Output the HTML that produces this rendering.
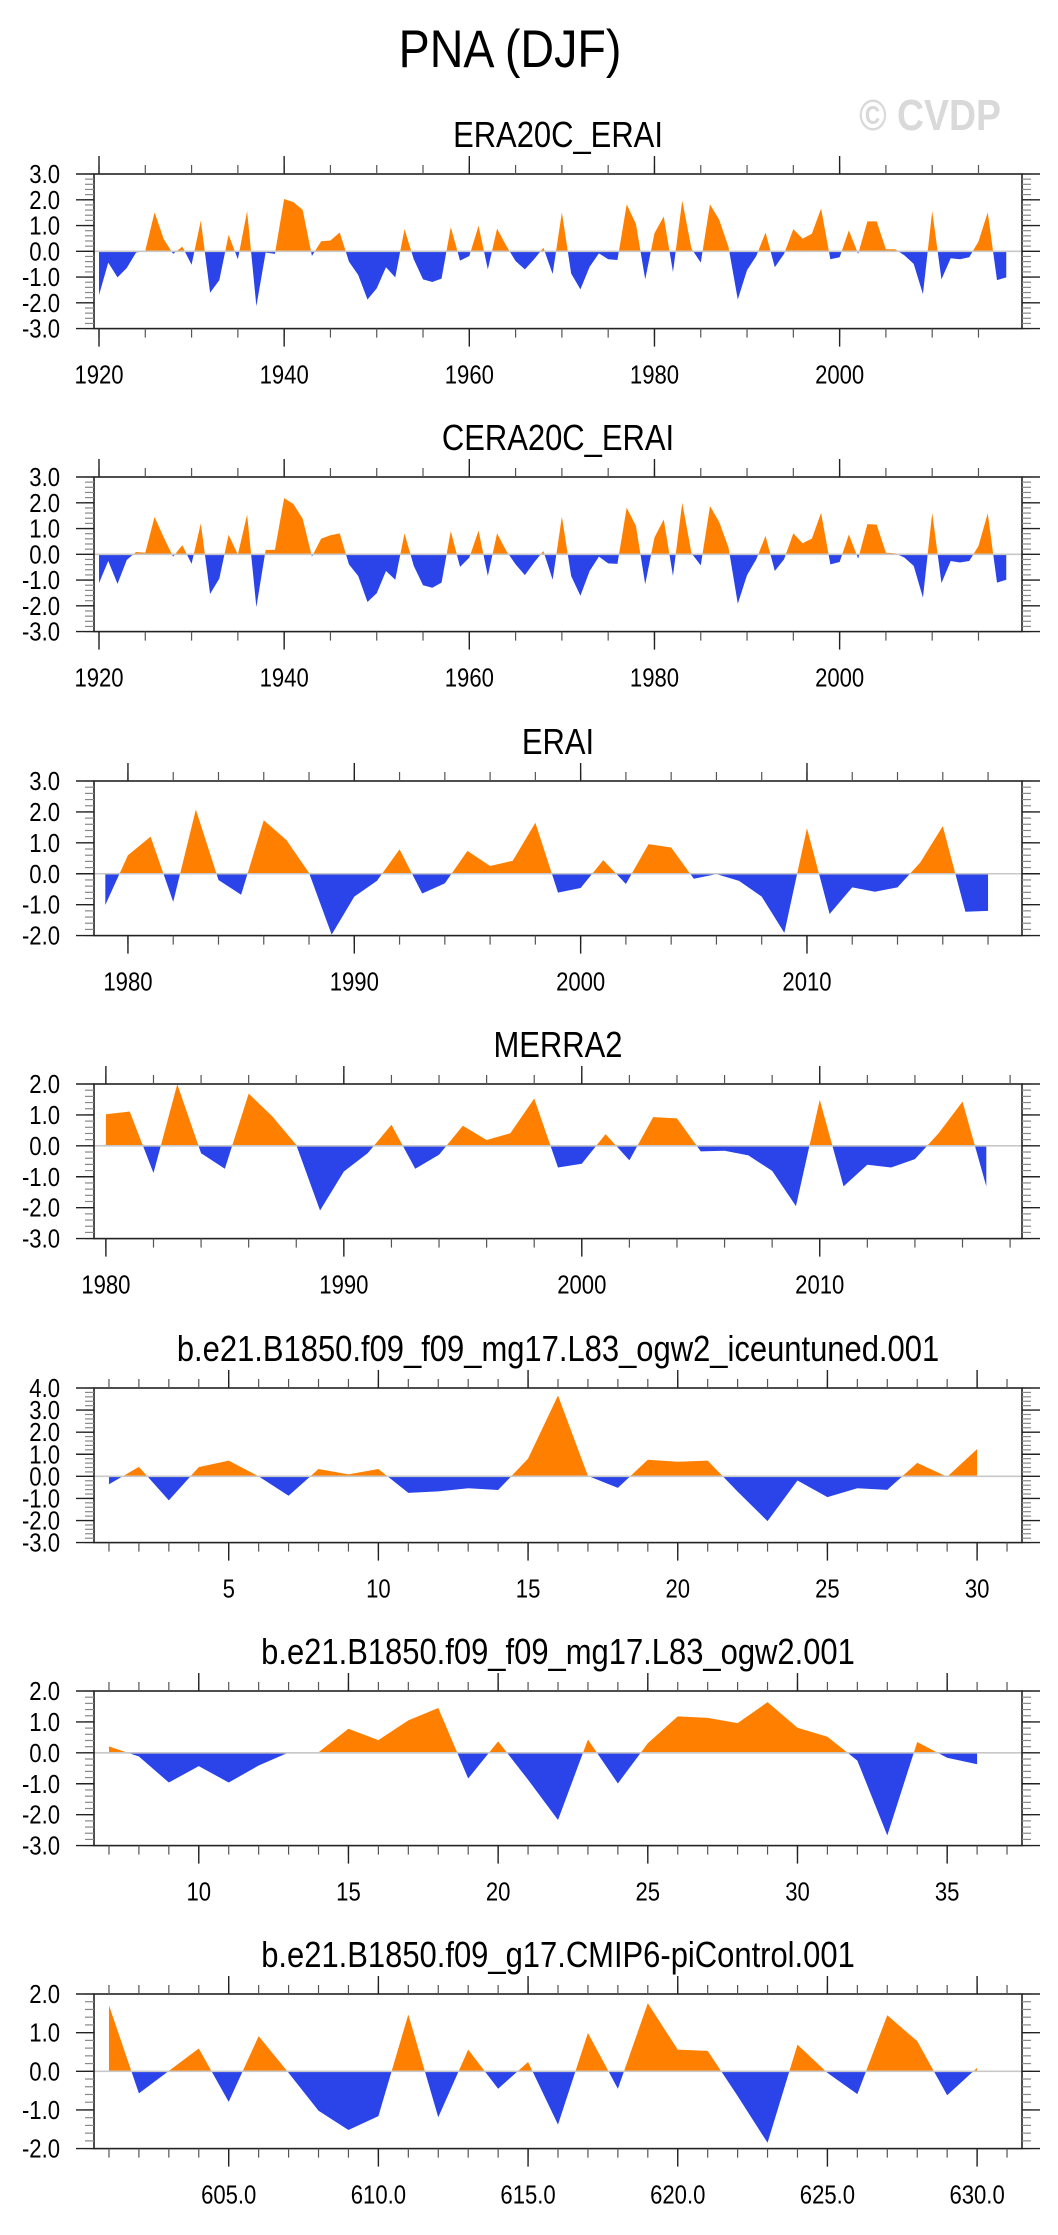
<!DOCTYPE html>
<html><head><meta charset="utf-8">
<style>
html,body{margin:0;padding:0;background:#fff;}
svg{display:block;font-family:"Liberation Sans",sans-serif;}
</style></head>
<body>
<svg id="chart" width="1058" height="2235" viewBox="0 0 1058 2235" xmlns="http://www.w3.org/2000/svg">
<rect width="1058" height="2235" fill="#fff"/>
<text transform="translate(510,67) scale(0.88,1)" font-size="53" text-anchor="middle" fill="#000">PNA (DJF)</text>
<text transform="translate(930,130) scale(0.85,1)" font-size="44" font-weight="bold" text-anchor="middle" fill="#d9d9d9">© CVDP</text>
</svg>
<script>
// ---- data ----
const era20cStart = 1920;
const era20cValues = [-1.70,-0.44,-1.01,-0.65,-0.05,0.02,1.51,0.47,-0.10,0.18,-0.52,1.19,-1.61,-1.12,0.64,-0.31,1.56,-2.13,-0.05,-0.10,
2.03,1.91,1.61,-0.18,0.39,0.42,0.73,-0.40,-0.92,-1.87,-1.44,-0.62,-1.01,0.86,-0.31,-1.09,-1.19,-1.06,0.94,-0.36,
-0.18,0.99,-0.70,0.88,0.21,-0.38,-0.70,-0.31,0.14,-0.88,1.51,-0.86,-1.48,-0.60,-0.08,-0.31,-0.34,1.82,1.06,-1.09,
0.70,1.35,-0.81,1.97,0.10,-0.44,1.82,1.22,0.16,-1.87,-0.73,-0.18,0.73,-0.62,-0.10,0.86,0.49,0.68,1.66,-0.31,
-0.23,0.81,-0.10,1.16,1.16,0.08,0.08,-0.16,-0.49,-1.66,1.56,-1.09,-0.27,-0.31,-0.23,0.38,1.51,-1.12,-1.01];
const cera20cStart = 1920;
const cera20cValues = [-1.12,-0.26,-1.15,-0.22,0.09,0.06,1.45,0.65,-0.09,0.35,-0.37,1.20,-1.54,-0.94,0.76,-0.01,1.54,-2.05,0.17,0.17,
2.18,1.95,1.38,-0.09,0.61,0.74,0.81,-0.39,-0.84,-1.85,-1.51,-0.65,-0.99,0.81,-0.45,-1.20,-1.30,-1.10,0.90,-0.49,
-0.13,0.92,-0.84,0.81,0.13,-0.39,-0.81,-0.32,0.13,-0.99,1.46,-0.84,-1.61,-0.65,-0.09,-0.35,-0.37,1.81,1.10,-1.16,
0.65,1.35,-0.84,2.00,0.04,-0.43,1.87,1.25,0.26,-1.92,-0.81,-0.19,0.71,-0.65,-0.19,0.81,0.43,0.61,1.61,-0.39,
-0.30,0.77,-0.17,1.17,1.15,0.06,0.04,-0.13,-0.45,-1.68,1.61,-1.12,-0.26,-0.32,-0.26,0.32,1.59,-1.10,-0.99];
const eraiStart = 1979;
const eraiValues = [-1.01,0.60,1.20,-0.91,2.08,-0.20,-0.68,1.73,1.09,0.03,-1.97,-0.74,-0.23,0.79,-0.64,-0.31,0.74,0.25,0.42,1.65,
-0.61,-0.46,0.44,-0.33,0.96,0.85,-0.16,-0.01,-0.23,-0.74,-1.91,1.47,-1.30,-0.44,-0.58,-0.44,0.36,1.54,-1.23,-1.20];
const merra2Start = 1980;
const merra2Values = [1.02,1.11,-0.88,1.99,-0.24,-0.74,1.69,0.95,0.03,-2.09,-0.83,-0.24,0.68,-0.74,-0.29,0.65,0.19,0.41,1.53,-0.70,
-0.58,0.38,-0.47,0.93,0.89,-0.18,-0.16,-0.31,-0.81,-1.95,1.49,-1.31,-0.61,-0.70,-0.43,0.41,1.43,-1.31];
const iceuntunedStart = 1;
const iceuntunedValues = [-0.36,0.43,-1.09,0.42,0.71,0.00,-0.88,0.33,0.09,0.33,-0.75,-0.68,-0.54,-0.62,0.80,3.66,0.02,-0.52,0.75,0.66,
0.71,-0.69,-2.03,-0.19,-0.94,-0.54,-0.61,0.61,-0.02,1.23];
const ogw2Start = 7;
const ogw2Values = [0.21,-0.12,-0.96,-0.43,-0.96,-0.41,0.01,0.02,0.78,0.41,1.05,1.45,-0.83,0.37,-0.87,-2.17,0.43,-0.99,0.31,1.18,
1.13,0.96,1.64,0.81,0.52,-0.25,-2.67,0.35,-0.16,-0.37];
const piControlStart = 601;
const piControlValues = [1.71,-0.57,0.01,0.59,-0.79,0.91,-0.04,-1.02,-1.52,-1.16,1.47,-1.19,0.56,-0.45,0.24,-1.38,0.99,-0.45,1.76,0.56,
0.53,-0.64,-1.85,0.69,-0.04,-0.59,1.45,0.78,-0.62,0.09];
// tick label arrays
const ticksCentury = [1920,1940,1960,1980,2000];
const ticksRecent = [1980,1990,2000,2010];
const ticksIce = [5,10,15,20,25,30];
const ticksOgw2 = [10,15,20,25,30,35];
const ticksPi = [605,610,615,620,625,630];
const yTicks6 = [-3,-2,-1,0,1,2,3];
const yTicksERAI = [-2,-1,0,1,2,3];
const yTicksM2 = [-3,-2,-1,0,1,2];
const yTicksIce = [-3,-2,-1,0,1,2,3,4];
const yTicksPi = [-2,-1,0,1,2];

// ---- layout ----
const SVGNS = "http://www.w3.org/2000/svg";
const svg = document.getElementById('chart');
const L = 94, R = 1022, H = 154.6;
const panels = [
 {name:'era20c-erai', title:'ERA20C_ERAI', top:174, start:era20cStart, vals:era20cValues, xmin:1919.46, xmax:2019.7, ymin:-3, ymax:3, xt:ticksCentury, minor:5, yt:yTicks6, fmt:v=>String(v)},
 {name:'cera20c-erai', title:'CERA20C_ERAI', top:477, start:cera20cStart, vals:cera20cValues, xmin:1919.46, xmax:2019.7, ymin:-3, ymax:3, xt:ticksCentury, minor:5, yt:yTicks6, fmt:v=>String(v)},
 {name:'erai', title:'ERAI', top:781, start:eraiStart, vals:eraiValues, xmin:1978.5, xmax:2019.5, ymin:-2, ymax:3, xt:ticksRecent, minor:2, yt:yTicksERAI, fmt:v=>String(v)},
 {name:'merra2', title:'MERRA2', top:1084, start:merra2Start, vals:merra2Values, xmin:1979.5, xmax:2018.5, ymin:-3, ymax:2, xt:ticksRecent, minor:2, yt:yTicksM2, fmt:v=>String(v)},
 {name:'ogw2-iceuntuned', title:'b.e21.B1850.f09_f09_mg17.L83_ogw2_iceuntuned.001', top:1388, start:iceuntunedStart, vals:iceuntunedValues, xmin:0.5, xmax:31.5, ymin:-3, ymax:4, xt:ticksIce, minor:1, yt:yTicksIce, fmt:v=>String(v)},
 {name:'ogw2', title:'b.e21.B1850.f09_f09_mg17.L83_ogw2.001', top:1691, start:ogw2Start, vals:ogw2Values, xmin:6.5, xmax:37.5, ymin:-3, ymax:2, xt:ticksOgw2, minor:1, yt:yTicksM2, fmt:v=>String(v)},
 {name:'picontrol', title:'b.e21.B1850.f09_g17.CMIP6-piControl.001', top:1994, start:piControlStart, vals:piControlValues, xmin:600.5, xmax:631.5, ymin:-2, ymax:2, xt:ticksPi, minor:1, yt:yTicksPi, fmt:v=>v.toFixed(1)}
];
function mk(tag, attrs, parent){
  const e = document.createElementNS(SVGNS, tag);
  for (const k in attrs) e.setAttribute(k, attrs[k]);
  (parent||svg).appendChild(e);
  return e;
}
const defs = mk('defs',{});
panels.forEach((p, pi) => {
  const top = p.top, bot = top + H;
  const xs = v => L + (v - p.xmin) / (p.xmax - p.xmin) * (R - L);
  const ys = v => bot - (v - p.ymin) / (p.ymax - p.ymin) * H;
  const g = mk('g',{});
  
  
  const t = mk('text',{transform:'translate('+((L+R)/2)+','+(top-27)+') scale(0.86,1)', 'font-size':36, 'text-anchor':'middle', fill:'#000'}, g);
  t.textContent = p.title;
  
  
  const y0 = ys(0);
  const cu = mk('clipPath',{id:'cu'+pi}, defs); mk('rect',{x:L,y:top,width:R-L,height:y0-top}, cu);
  const cd = mk('clipPath',{id:'cd'+pi}, defs); mk('rect',{x:L,y:y0,width:R-L,height:bot-y0}, cd);
  let pts = [];
  p.vals.forEach((v,i) => pts.push(xs(p.start+i).toFixed(2)+','+ys(v).toFixed(2)));
  const x0 = xs(p.start), x1 = xs(p.start + p.vals.length - 1);
  const poly = x0.toFixed(2)+','+y0.toFixed(2)+' '+pts.join(' ')+' '+x1.toFixed(2)+','+y0.toFixed(2);
  const up = mk('polygon',{points:poly, fill:'#ff8000', 'clip-path':'url(#cu'+pi+')'}, g);
  
  
  const dn = mk('polygon',{points:poly, fill:'#2a44ea', 'clip-path':'url(#cd'+pi+')'}, g);
  
  
  const zl = mk('line',{x1:L,x2:R,y1:y0,y2:y0,stroke:'#c8c8c8','stroke-width':1.6}, g);
  
  
  const fr = mk('rect',{x:L,y:top,width:R-L,height:H,fill:'none',stroke:'#222','stroke-width':1.6}, g);
  
  
  const first = Math.ceil(p.xmin / p.minor) * p.minor;
  for (let v = first; v <= p.xmax; v += p.minor) {
    const x = xs(v);
    mk('line',{x1:x,x2:x,y1:top,y2:top-9,stroke:'#555','stroke-width':1.2}, g);
    mk('line',{x1:x,x2:x,y1:bot,y2:bot+9,stroke:'#555','stroke-width':1.2}, g);
  }
  p.xt.forEach(v => {
    const x = xs(v);
    mk('line',{x1:x,x2:x,y1:top,y2:top-18,stroke:'#222','stroke-width':1.4}, g);
    mk('line',{x1:x,x2:x,y1:bot,y2:bot+18,stroke:'#222','stroke-width':1.4}, g);
    const lb = mk('text',{transform:'translate('+x+','+(bot+55)+') scale(0.85,1)', 'font-size':26, 'text-anchor':'middle', fill:'#000'}, g);
    lb.textContent = p.fmt(v);
    
    
  });
  for (let v = p.ymin; v <= p.ymax + 1e-6; v += 0.2) {
    const y = ys(v);
    mk('line',{x1:L,x2:L-9,y1:y,y2:y,stroke:'#888','stroke-width':1.2}, g);
    mk('line',{x1:R,x2:R+9,y1:y,y2:y,stroke:'#888','stroke-width':1.2}, g);
  }
  p.yt.forEach(v => {
    const y = ys(v);
    mk('line',{x1:L,x2:L-18,y1:y,y2:y,stroke:'#222','stroke-width':1.4}, g);
    mk('line',{x1:R,x2:R+18,y1:y,y2:y,stroke:'#222','stroke-width':1.4}, g);
    const lb = mk('text',{transform:'translate(60,'+(y+9)+') scale(0.85,1)', 'font-size':26, 'text-anchor':'end', fill:'#000'}, g);
    lb.textContent = v.toFixed(1);
    
    
  });
});
</script>
</body></html>
